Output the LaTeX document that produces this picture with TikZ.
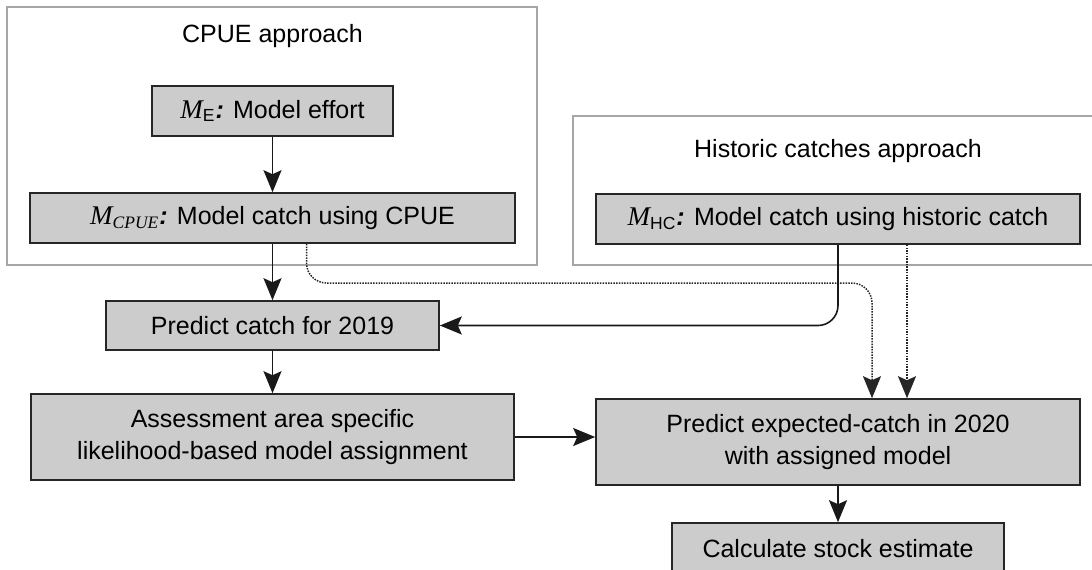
\documentclass[tikz,border=0pt]{standalone}
\usepackage{fontspec}
\setmainfont{Liberation Sans}
\newfontfamily\serifit{Liberation Serif}
\usetikzlibrary{arrows.meta}

\definecolor{boxfill}{HTML}{CCCCCC}
\definecolor{groupline}{HTML}{A6A6A6}

% model symbol followed by a bold italic colon
\newcommand{\msym}[1]{#1\textbf{\textit{:}}}
% italic serif M, a little larger than the body text
\newcommand{\mletter}{{\serifit\itshape\fontsize{13.5}{16}\selectfont M}}

\begin{document}
\begin{tikzpicture}[x=0.5pt,y=-0.5pt,
  every node/.style={font=\fontsize{12.5}{16}\selectfont},
  group/.style={draw=groupline, line width=0.6pt},
  title/.style={inner sep=0pt},
  box/.style={draw=black!85, fill=boxfill, line width=0.8pt, inner sep=0pt, align=center},
  arr/.style={-{Stealth[length=11pt,width=9pt,inset=2pt]}, line width=0.8pt, black!90},
  dotarr/.style={-{Stealth[length=11pt,width=9pt,inset=2pt]}, line width=0.75pt,
                 dash pattern=on 0.75pt off 0.6pt, black!85}]
\useasboundingbox (0,0) rectangle (1092,569);
\clip (0,0) rectangle (1092,569);

% approach frames
\draw[group] (7,7) rectangle (537,265);
\draw[group] (573,116) rectangle (1120,265);
\node[title] (cputitle) at (272.5,36) {CPUE approach};
\node[title] (hctitle) at (838,151) {Historic catches approach};

% level of the dotted horizontal run
\coordinate (dotlev) at (0,283);

% process boxes
\node[box, minimum width=120.5pt, minimum height=25pt] (me) at (272.5,111)
  {\msym{\mletter\textsubscript{E}} Model effort};
\node[box, minimum width=242.5pt, minimum height=25pt] (mcpue) at (272.5,218)
  {\msym{\mletter{\serifit\itshape\textsubscript{CPUE}}} Model catch using CPUE};
\node[box, minimum width=242pt, minimum height=25pt] (mhc) at (838,219)
  {\msym{\mletter\textsubscript{HC}} Model catch using historic catch};
\node[box, minimum width=166.5pt, minimum height=24.5pt] (p19) at (272.5,325.5)
  {Predict catch for 2019};
\node[box, minimum width=241.5pt, minimum height=43pt] (assess) at (272.5,437)
  {Assessment area specific\\likelihood-based model assignment};
\node[box, minimum width=242pt, minimum height=43pt] (pexp) at (838,442)
  {Predict expected-catch in 2020\\with assigned model};
\node[box, minimum width=166pt, minimum height=25.5pt] (calc) at (838,548.5)
  {Calculate stock estimate};

% dotted links into the 2020 prediction
\coordinate (dsrc) at ([xshift=17pt]mcpue.south);
\coordinate (ddst) at ([xshift=17pt]pexp.north);
\draw[dotarr, rounded corners=10pt] (dsrc) |- (dotlev -| ddst) -- (ddst);
\coordinate (hsrc) at ([xshift=34.5pt]mhc.south);
\coordinate (hdst) at ([xshift=34.5pt]pexp.north);
\draw[dotarr] (hsrc) -- (hdst);

% solid flow
\draw[arr] (me) -- (mcpue);
\draw[arr] (mcpue) -- (p19);
\draw[arr] (p19) -- (assess);
\draw[arr] (assess.east) -- (assess.east -| pexp.west);
\draw[arr] (pexp) -- (calc);
\draw[arr, rounded corners=10pt] (mhc.south) |- (p19.east);
\end{tikzpicture}
\end{document}
